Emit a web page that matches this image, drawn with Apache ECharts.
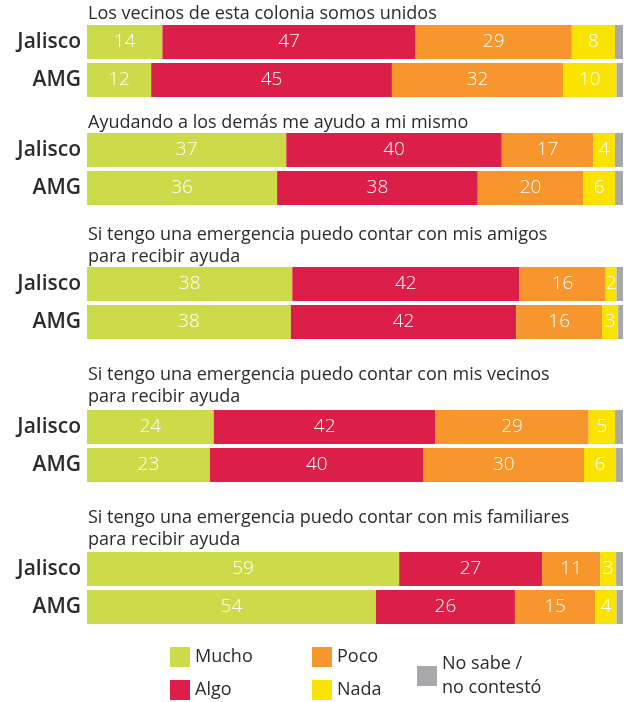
<!DOCTYPE html>
<html>
<head>
<meta charset="utf-8">
<script src="https://cdn.jsdelivr.net/npm/echarts@6/dist/echarts.min.js"></script>
<style>
  html, body { margin: 0; padding: 0; background: #fff; }
  #chart { width: 626px; height: 702px; }
</style>
</head>
<body>
<div id="chart"></div>
<script>
// preguntas y filas
const questions = [
  "Los vecinos de esta colonia somos unidos",
  "Ayudando a los demás me ayudo a mi mismo",
  "Si tengo una emergencia puedo contar con mis amigos\npara recibir ayuda",
  "Si tengo una emergencia puedo contar con mis vecinos\npara recibir ayuda",
  "Si tengo una emergencia puedo contar con mis familiares\npara recibir ayuda"
];
const rows = ["Jalisco", "AMG"];

// valores [Jalisco, AMG] por pregunta
const mucho = [[14, 12], [37, 36], [38, 38], [24, 23], [59, 54]];
const algo = [[47, 45], [40, 38], [42, 42], [42, 40], [27, 26]];
const poco = [[29, 32], [17, 20], [16, 16], [29, 30], [11, 15]];
const nada = [[8, 10], [4, 6], [2, 3], [5, 6], [3, 4]];
const noSabe = [[1.5, 1.2], [1.5, 1.5], [1.2, 0.9], [1.5, 1.3], [1.3, 1.2]];

const seriesDefs = [
  { name: "Mucho", data: mucho, color: "#cdda4a", label: true },
  { name: "Algo", data: algo, color: "#db1f48", label: true },
  { name: "Poco", data: poco, color: "#f6962d", label: true },
  { name: "Nada", data: nada, color: "#fbe300", label: true },
  { name: "No sabe /\nno contestó", data: noSabe, color: "#a7a8ab", label: false }
];

const gridTops = [23, 131, 265, 408, 550];
const titleTops = [3, 112, 224, 364, 507];
const font = "Open Sans";

let grids = [], xAxes = [], yAxes = [], titles = [], series = [];
questions.forEach(function (q, i) {
  grids.push({ left: 87, right: 3, top: gridTops[i], height: 76 });
  xAxes.push({ gridIndex: i, type: "value", min: 0, max: 100, show: false });
  yAxes.push({
    gridIndex: i, type: "category", data: rows, inverse: true,
    axisLine: { show: false }, axisTick: { show: false }, splitLine: { show: false },
    axisLabel: { color: "#2b2b2b", fontSize: 21, fontWeight: 600, fontFamily: font, margin: 6 }
  });
  titles.push({
    text: q, left: 88, top: titleTops[i], padding: 0,
    textStyle: { color: "#2b2b2b", fontSize: 18, fontWeight: "normal", fontFamily: font, lineHeight: 22 }
  });
  // cada barra se lleva a 100 (la suma de las cifras redondeadas no siempre da 100)
  const totals = rows.map(function (r, j) {
    return seriesDefs.reduce(function (acc, s) { return acc + s.data[i][j]; }, 0);
  });
  seriesDefs.forEach(function (s) {
    series.push({
      name: s.name, type: "bar", stack: "g" + i,
      xAxisIndex: i, yAxisIndex: i,
      barWidth: 34,
      data: s.data[i].map(function (v, j) { return { value: v * 100 / totals[j], raw: v }; }),
      itemStyle: { color: s.color },
      label: {
        show: s.label, position: "inside", color: "#fff",
        fontSize: 19, fontWeight: 300, fontFamily: font,
        formatter: function (p) { return p.data.raw; }
      },
      emphasis: { disabled: true }
    });
  });
});

const legendBase = {
  orient: "vertical", icon: "rect", itemWidth: 20, itemHeight: 20, itemGap: 13,
  padding: 0,
  textStyle: { color: "#2b2b2b", fontSize: 18, fontFamily: font, lineHeight: 20 }
};

const chart = echarts.init(document.getElementById("chart"));
chart.setOption({
  animation: false,
  title: titles,
  grid: grids,
  xAxis: xAxes,
  yAxis: yAxes,
  legend: [
    Object.assign({}, legendBase, { left: 170, top: 647, data: ["Mucho", "Algo"] }),
    Object.assign({}, legendBase, { left: 312, top: 647, data: ["Poco", "Nada"] }),
    Object.assign({}, legendBase, {
      left: 417, top: 652, data: ["No sabe /\nno contestó"],
      textStyle: { color: "#2b2b2b", fontSize: 18, fontFamily: font, lineHeight: 24 }
    })
  ],
  series: series
});
</script>
</body>
</html>
